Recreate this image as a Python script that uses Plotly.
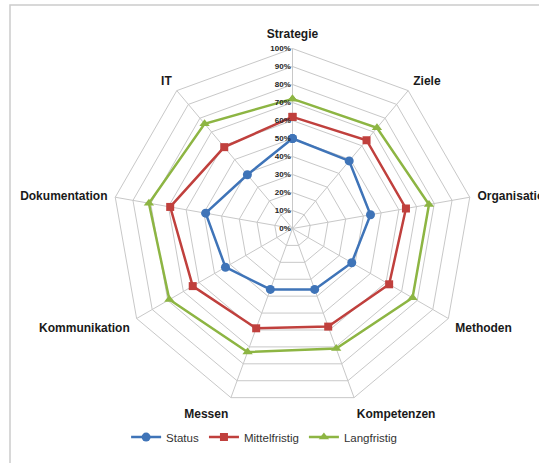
import plotly.graph_objects as go

categories = ["Strategie", "Ziele", "Organisation", "Methoden", "Kompetenzen",
              "Messen", "Kommunikation", "Dokumentation", "IT"]
status = [50, 49, 44, 38, 36, 36, 43, 49, 39]
mittelfristig = [62, 64, 64, 62, 58, 59, 64, 69, 59]
langfristig = [72, 73, 77, 77, 71, 73, 79, 81, 76]
radial_ticks = [0, 10, 20, 30, 40, 50, 60, 70, 80, 90, 100]

W, H = 539, 463
cx, cy, R = 292.5, 228.5, 180

def closed(v):
    return [x / 100 for x in v] + [v[0] / 100]

theta = categories + [categories[0]]

fig = go.Figure()
series = [
    ("Status", status, "#3f74b8", "circle", 9),
    ("Mittelfristig", mittelfristig, "#c0403d", "square", 8),
    ("Langfristig", langfristig, "#8db543", "triangle-up", 9),
]
for name, vals, col, sym, sz in series:
    fig.add_trace(go.Scatterpolar(
        r=closed(vals), theta=theta, name=name, mode="lines+markers",
        line=dict(color=col, width=2.5),
        marker=dict(color=col, symbol=sym, size=sz),
    ))

fig.update_layout(
    width=W, height=H,
    margin=dict(l=0, r=0, t=0, b=0),
    paper_bgcolor="white",
    font=dict(family="Liberation Sans", color="#262626"),
    polar=dict(
        domain=dict(x=[(cx - R) / W, (cx + R) / W],
                    y=[(H - cy - R) / H, (H - cy + R) / H]),
        gridshape="linear",
        bgcolor="white",
        angularaxis=dict(
            rotation=90, direction="clockwise",
            categoryorder="array", categoryarray=categories,
            linecolor="#c8c8c8", linewidth=1,
            gridcolor="#c8c8c8", gridwidth=1,
            ticks="outside", ticklen=5, tickcolor="rgba(0,0,0,0)",
            tickfont=dict(size=12, family="Liberation Sans", color="#1a1a1a",
                          weight="bold"),
        ),
        radialaxis=dict(
            range=[0, 1], tickvals=[t / 100 for t in radial_ticks],
            ticktext=[f"{t}%" for t in radial_ticks],
            angle=90, tickangle=90, side="counterclockwise",
            showline=False, gridcolor="#c8c8c8", gridwidth=1,
            ticks="", tickfont=dict(size=8, color="#262626", weight="bold"),
        ),
    ),
    legend=dict(orientation="h", x=0.49, xanchor="center", y=0.056,
                yanchor="middle", font=dict(size=11.5, color="#333333"),
                bgcolor="rgba(0,0,0,0)", itemwidth=30, tracegroupgap=0),
    showlegend=True,
    shapes=[dict(type="rect", xref="paper", yref="paper",
                 x0=10 / W, x1=1.05, y0=-0.05, y1=1 - 5 / H,
                 line=dict(color="#cccccc", width=1.5))],
)

fig.write_html("out.html")
